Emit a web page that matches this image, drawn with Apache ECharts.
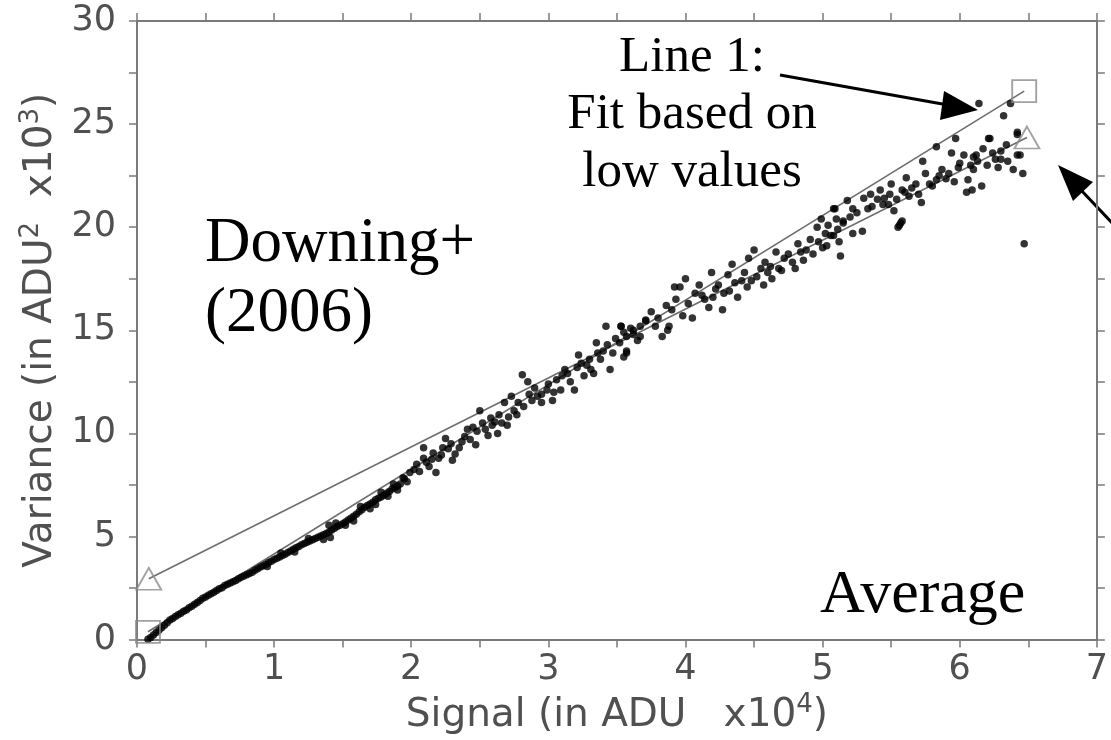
<!DOCTYPE html>
<html><head><meta charset="utf-8">
<script src="https://cdn.jsdelivr.net/npm/echarts@6/dist/echarts.min.js"></script>
<style>html,body{margin:0;padding:0;background:#fff}#c{width:1111px;height:740px}</style>
</head><body><div id="c"></div>
<script>
// Axis ranges (x in units of 10^4 ADU, y in units of 10^3 ADU^2)
const xRange = [0, 7], xStep = 1;
const yRange = [0, 30], yStep = 5;

// Fit lines (end points where the marker symbols sit)
const lineLow = [[0.08, 0.38], [6.47, 26.6]];   // Line 1: fit based on low values (squares)
const lineAll = [[0.086, 2.95], [6.49, 24.35]]; // second fit (triangles)

// Measured points, low signal (tight band)
const ptsLow = [
[0.08,0.02],[0.10,0.10],[0.12,0.22],[0.14,0.35],[0.16,0.45],[0.18,0.58],[0.20,0.70],[0.22,0.82],[0.24,0.95],[0.26,1.02],
[0.28,1.12],[0.30,1.20],[0.32,1.28],[0.34,1.37],[0.36,1.44],[0.38,1.55],[0.40,1.62],[0.42,1.72],[0.44,1.80],[0.46,1.90],
[0.48,2.00],[0.50,2.06],[0.52,2.15],[0.54,2.22],[0.56,2.30],[0.58,2.38],[0.60,2.47],[0.62,2.52],[0.64,2.62],[0.66,2.68],
[0.68,2.74],[0.70,2.80],[0.72,2.87],[0.74,2.95],[0.76,3.02],[0.78,3.08],[0.80,3.15],[0.82,3.20],[0.84,3.27],[0.86,3.36],
[0.88,3.44],[0.90,3.52],[0.92,3.58],[0.94,3.66],[0.96,3.74],[0.98,3.80],[1.00,3.88],[1.02,3.95],[1.04,4.00],[1.06,4.08],
[1.08,4.14],[1.10,4.22],[1.12,4.30],[1.14,4.38],[1.16,4.45],[1.18,4.52],[1.20,4.60],[1.22,4.66],[1.24,4.72],[1.26,4.78],
[1.28,4.84],[1.30,4.90],[1.32,4.96],[1.34,5.02],[1.36,5.08],[1.38,5.15],[1.40,5.22],[1.40,5.55],[1.41,4.95],[1.42,5.32],
[1.44,5.40],[1.46,5.48],[1.48,5.55],[1.50,5.62],[1.52,5.70],[1.54,5.80],[1.56,5.88],[1.58,5.98],[1.60,6.08],[1.62,6.20],
[1.64,6.30],[1.66,6.42],[1.68,6.50],[1.70,6.58],[1.72,6.66],[1.74,6.78],[1.76,6.85],[1.78,6.92],[1.80,7.00],[1.82,7.10],
[1.84,7.18],[1.86,7.30],[1.88,7.38],[1.90,7.45],[1.92,7.55],
[0.95,3.55],[1.05,4.20],[1.15,4.25],[1.25,4.90],[1.36,4.85],[1.45,5.65],[1.52,5.55],[1.58,5.75],[1.63,6.45],[1.70,6.35],
[1.74,6.55],[1.78,7.15],[1.83,6.95],[1.87,7.55],[1.90,7.25],[1.95,7.80],[1.97,7.65]
];

// Measured points, middle signal
const ptsMid = [
[1.94,7.85],[1.99,8.10],[2.04,8.50],[2.09,8.80],[2.09,9.30],[2.18,8.10],[2.13,8.40],[2.20,8.80],[2.23,9.30],[2.25,9.75],
[2.32,9.00],[2.35,9.30],[2.37,9.60],[2.41,10.20],[2.47,9.45],[2.48,10.10],[2.52,10.50],[2.50,11.10],[2.56,9.90],[2.59,10.40],
[2.63,10.00],[2.66,10.50],[2.70,10.40],[2.71,10.80],[2.68,11.50],[2.73,11.80],[2.78,11.50],[2.81,12.85],[2.85,12.50],[2.88,11.60],
[2.95,11.50],[2.95,11.90],[2.99,12.10],[3.03,11.60],[3.04,12.00],[3.09,12.10],[3.14,12.90],[3.12,13.10],[3.19,12.10],[3.21,13.20],
[3.22,13.80],[3.26,12.80],[3.28,13.30],[3.33,12.90],[3.35,14.40],[3.38,13.60],[3.40,14.00],[3.42,15.20],[3.45,13.10],[3.47,13.90],
[3.53,15.20],[3.52,14.40],[3.57,13.90],[3.57,14.70],[3.62,14.80],[3.67,15.20],[3.71,15.45],
[2.02,8.25],[2.06,8.15],[2.11,8.60],[2.15,8.75],[2.16,9.05],[2.22,8.95],[2.27,9.25],[2.29,9.50],[2.30,8.70],[2.39,9.85],
[2.43,9.70],[2.45,10.30],[2.54,10.20],[2.58,10.75],[2.61,10.55],[2.64,10.90],[2.75,11.10],[2.77,10.90],[2.82,11.30],[2.86,11.90],
[2.90,12.20],[2.92,11.80],[3.00,12.40],[3.06,12.60],[3.10,12.80],[3.16,12.50],[3.24,13.40],[3.30,13.60],[3.31,13.10],[3.36,13.90],
[3.43,14.30],[3.49,14.60],[3.55,14.90],[3.60,15.10],[3.65,14.50]
];

// Measured points, high signal
const ptsHigh = [
[3.53,15.2],[3.62,15.0],[3.67,14.7],[3.57,14.0],[3.55,13.7],[3.71,15.5],[3.78,15.2],[3.83,14.7],[3.88,15.2],[3.86,16.2],
[3.93,16.5],[3.96,17.1],[4.00,17.5],[3.98,15.7],[4.05,15.6],[4.10,17.2],[4.14,16.5],[4.17,16.1],[4.19,17.8],[4.27,16.0],
[4.24,17.2],[4.31,17.7],[4.34,18.2],[4.32,16.9],[4.41,17.4],[4.46,18.5],[4.50,18.9],[4.48,17.4],[4.55,18.0],[4.60,17.8],
[4.63,17.5],[4.58,18.3],[4.66,18.8],[4.72,18.5],[4.78,18.3],[4.86,18.4],[4.82,19.2],[4.91,19.4],[4.96,20.0],[5.00,19.0],
[5.13,18.6],[5.10,20.4],[5.06,19.6],[5.15,20.2],[5.18,21.3],[5.08,20.9],[3.92,17.1],[3.87,15.0],
[3.75,15.9],[3.80,15.6],[3.90,16.0],[4.02,16.3],[4.07,16.8],[4.12,16.7],[4.20,16.6],[4.22,17.0],[4.28,16.8],[4.36,17.3],
[4.38,16.6],[4.43,17.8],[4.45,17.1],[4.52,17.6],[4.57,17.2],[4.62,18.1],[4.68,18.0],[4.70,17.9],[4.75,18.7],[4.80,18.0],
[4.84,18.8],[4.88,18.9],[4.93,18.7],[4.97,19.3],[5.02,19.7],[5.04,20.1],[5.11,19.9],[5.12,19.3]
];

// Measured points, top end
const ptsTop = [
[6.14,26.0],[6.32,25.4],[6.37,26.0],[5.97,24.3],[5.83,23.9],[6.22,24.3],[6.17,23.8],[5.94,23.6],[6.03,23.5],[6.10,23.4],
[6.42,23.5],[6.42,24.6],[5.73,23.2],[5.61,22.4],[5.75,22.6],[5.87,22.8],[5.99,22.9],[6.10,22.8],[6.06,22.3],[6.26,23.3],
[6.28,22.9],[6.39,22.8],[6.46,22.6],[6.05,21.7],[6.16,22.0],[5.78,22.1],[5.83,22.3],[5.90,22.35],[5.68,22.1],[5.58,21.8],
[5.49,21.6],[5.40,21.35],[5.30,21.4],[5.22,20.9],[5.44,21.1],[5.54,21.35],[5.63,21.5],[5.72,21.2],[5.52,20.8],[5.57,20.2],
[5.55,20.0],[5.29,19.8],[5.22,19.7],[5.08,19.6],[5.15,20.3],[5.09,20.9],[4.99,20.4],[5.03,19.1],[6.44,23.5],[6.21,24.3],
[6.42,24.5],[6.34,24.0],[6.12,23.5],[6.47,19.2],[6.09,21.8],[6.30,23.3],[5.56,20.1],[5.58,20.3],
[5.20,20.5],[5.25,20.7],[5.33,20.9],[5.36,21.0],[5.45,21.4],[5.48,21.1],[5.60,21.7],[5.65,21.9],[5.70,21.6],[5.80,22.0],
[5.85,22.5],[5.92,22.6],[5.96,22.2],[6.00,23.1],[6.08,23.0],[6.13,23.2],[6.20,23.0],[6.24,23.6],[6.30,23.7],[6.35,23.2],
[5.35,21.6],[5.42,21.8],[5.50,22.1]
];

const axisColor = '#7a7a7a';
const labelColor = '#505050';
const sans = 'DejaVu Sans';
const serif = 'Liberation Serif';

function axisBase(extra) {
  return Object.assign({
    type: 'value',
    axisLine: { show: true, onZero: false, lineStyle: { color: axisColor, width: 2 } },
    axisTick: { show: true, inside: false, length: 8, lineStyle: { color: axisColor, width: 1.5 } },
    minorTick: { show: true, splitNumber: 2, length: 8, lineStyle: { color: axisColor, width: 1.5 } },
    splitLine: { show: false },
    minorSplitLine: { show: false }
  }, extra);
}

const nameRich = {
  n: { fontSize: 39, color: labelColor, fontFamily: sans, lineHeight: 46 },
  s: { fontSize: 26, color: labelColor, fontFamily: sans, lineHeight: 24, verticalAlign: 'top' }
};

const chart = echarts.init(document.getElementById('c'), null, { renderer: 'canvas' });
chart.setOption({
  animation: false,
  backgroundColor: '#fff',
  grid: { left: 137, right: 2, top: 21, bottom: 88, containLabel: false },
  xAxis: [
    axisBase({
      position: 'bottom', min: xRange[0], max: xRange[1], interval: xStep,
      axisLabel: { show: true, fontSize: 35, color: labelColor, fontFamily: sans, margin: 13, showMaxLabel: true },
      name: '{n|Signal (in ADU   x10}{s|4}{n|)}',
      nameLocation: 'middle', nameGap: 40,
      nameTextStyle: { rich: nameRich }
    }),
    axisBase({
      position: 'top', min: xRange[0], max: xRange[1], interval: xStep,
      axisLabel: { show: false }
    })
  ],
  yAxis: [
    axisBase({
      position: 'left', min: yRange[0], max: yRange[1], interval: yStep,
      axisLabel: { show: true, fontSize: 35, color: labelColor, fontFamily: sans, margin: 21 },
      name: '{n|Variance (in ADU}{s|2}{n|  x10}{s|3}{n|)}',
      nameLocation: 'middle', nameGap: 72,
      nameTextStyle: { rich: nameRich }
    }),
    axisBase({
      position: 'right', min: yRange[0], max: yRange[1], interval: yStep,
      axisLabel: { show: false }
    })
  ],
  series: [
    { type: 'scatter', xAxisIndex: 0, yAxisIndex: 0, data: ptsLow.concat(ptsMid, ptsHigh, ptsTop),
      symbol: 'circle', symbolSize: 7.5, itemStyle: { color: '#000' }, z: 3 },
    { type: 'line', data: lineLow, showSymbol: false, symbol: 'none',
      lineStyle: { color: '#6e6e6e', width: 1.6 }, z: 2 },
    { type: 'line', data: lineAll, showSymbol: false, symbol: 'none',
      lineStyle: { color: '#6e6e6e', width: 1.6 }, z: 2 },
    { type: 'scatter', data: lineLow, symbol: 'rect', symbolSize: [24, 22],
      itemStyle: { color: 'rgba(0,0,0,0)', borderColor: '#8a8a8a', borderWidth: 1.8 }, z: 4 },
    { type: 'scatter', data: lineAll, symbol: 'triangle', symbolSize: [25, 22],
      itemStyle: { color: 'rgba(0,0,0,0)', borderColor: '#8a8a8a', borderWidth: 1.8 }, z: 4 }
  ],
  graphic: [
    { type: 'text', x: 205, y: 244, style: { text: 'Downing+', fontSize: 63, fontFamily: serif, fill: '#000', align: 'left', verticalAlign: 'middle' } },
    { type: 'text', x: 205, y: 314, style: { text: '(2006)', fontSize: 63, fontFamily: serif, fill: '#000', align: 'left', verticalAlign: 'middle' } },
    { type: 'text', x: 692, y: 58, style: { text: 'Line 1:', fontSize: 51, fontFamily: serif, fill: '#000', align: 'center', verticalAlign: 'middle' } },
    { type: 'text', x: 692, y: 115, style: { text: 'Fit based on', fontSize: 51, fontFamily: serif, fill: '#000', align: 'center', verticalAlign: 'middle' } },
    { type: 'text', x: 692, y: 173, style: { text: 'low values', fontSize: 51, fontFamily: serif, fill: '#000', align: 'center', verticalAlign: 'middle' } },
    { type: 'text', x: 820, y: 596, style: { text: 'Average', fontSize: 62, fontFamily: serif, fill: '#000', align: 'left', verticalAlign: 'middle' } },
    { type: 'line', shape: { x1: 780, y1: 75, x2: 948, y2: 105 }, style: { stroke: '#000', lineWidth: 3 } },
    { type: 'polygon', shape: { points: [[978, 110], [944, 91], [940, 120]] }, style: { fill: '#000' } },
    { type: 'line', shape: { x1: 1115, y1: 226, x2: 1080, y2: 189 }, style: { stroke: '#000', lineWidth: 3 } },
    { type: 'polygon', shape: { points: [[1058, 165], [1093, 182], [1073, 201]] }, style: { fill: '#000' } }
  ]
});
</script>
</body></html>
